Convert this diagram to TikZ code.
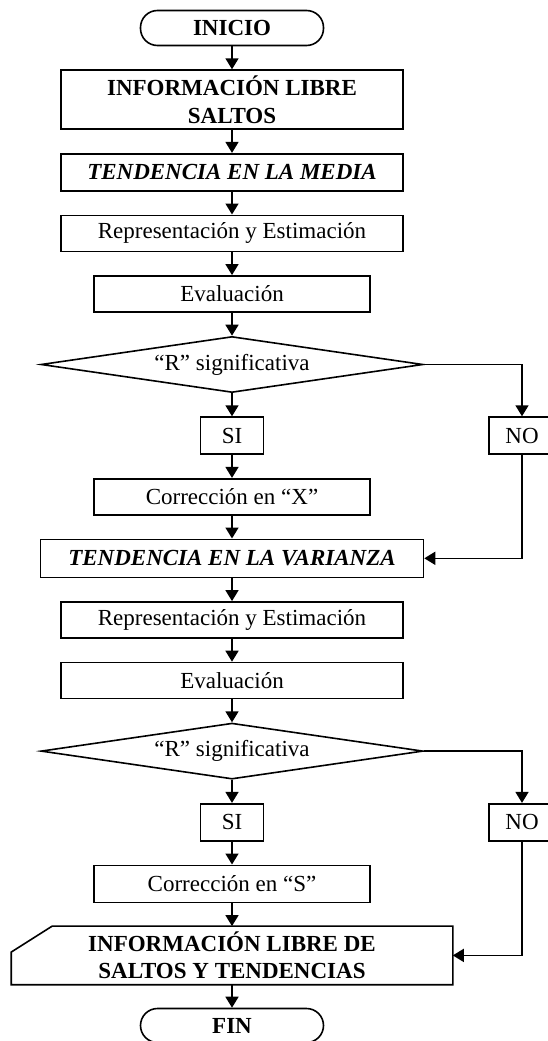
\documentclass[tikz,border=0pt]{standalone}
\usepackage{fontspec}
\setmainfont{Liberation Serif}
\usetikzlibrary{arrows.meta,positioning,shapes.geometric}
\tikzset{
  every picture/.style={line width=1.6pt},
  every node/.append style={font=\fontsize{23}{28}\selectfont},
  caja/.style={draw, align=center, inner sep=3pt, minimum width=#1, minimum height=36pt},
  caja/.default=342pt,
  negrita/.style={caja=#1, font=\fontsize{23}{28}\selectfont\bfseries},
  negrita/.default=342pt,
  titulo/.style={caja=#1, font=\fontsize{23}{28}\selectfont\bfseries\itshape},
  titulo/.default=342pt,
  terminal/.style={draw, rounded corners=17pt, minimum width=183pt, minimum height=35pt, font=\fontsize{23}{28}\selectfont\bfseries},
  decision/.style={draw, diamond, aspect=6.8, inner sep=0pt, minimum width=382pt, minimum height=56pt},
  rama/.style={caja=#1, minimum height=37pt},
  rama/.default=63pt,
  flecha/.style={-{Triangle[length=11pt,width=13pt]}},
}
\begin{document}
\begin{tikzpicture}[x=1pt, y=1pt, node distance=23pt]
  \useasboundingbox (0,0) rectangle (548,-1041);
  \coordinate (der) at (522,0);

  \node[terminal] (ini) at (232,-28) {INICIO};
  \node[negrita, minimum height=59pt, below=of ini] (info) {INFORMACIÓN LIBRE\\SALTOS};
  \node[titulo, minimum height=37pt, below=of info] (media) {TENDENCIA EN LA MEDIA};
  \node[caja, below=of media] (rep1) {Representación y Estimación};
  \node[caja=276pt, below=of rep1] (eval1) {Evaluación};
  \node[decision, below=of eval1] (dec1) {“R” significativa};
  \node[rama, below=of dec1] (si1) {SI};
  \node[rama=66pt] (no1) at (si1 -| der) {NO};
  \node[caja=276pt, below=of si1] (corx) {Corrección en “X”};
  \node[titulo=383pt, minimum height=38pt, below=of corx] (var) {TENDENCIA EN LA VARIANZA};
  \node[caja, below=of var] (rep2) {Representación y Estimación};
  \node[caja, below=of rep2] (eval2) {Evaluación};
  \node[decision, below=of eval2] (dec2) {“R” significativa};
  \node[rama, below=of dec2] (si2) {SI};
  \node[rama=66pt] (no2) at (si2 -| der) {NO};
  \node[caja=276pt, minimum height=37pt, below=of si2] (cors) {Corrección en “S”};
  \node[align=center, inner sep=0pt, minimum width=440pt, minimum height=57pt, font=\fontsize{23}{27}\selectfont\bfseries, below=of cors] (salida) {INFORMACIÓN LIBRE DE\\SALTOS Y TENDENCIAS};
  \draw (salida.south west) -- (salida.south east) -- (salida.north east)
    -- ([xshift=41pt]salida.north west) -- ([yshift=-26pt]salida.north west) -- cycle;
  \node[terminal, minimum height=34pt, below=of salida] (fin) {FIN};

  \foreach \a/\b in {ini/info, info/media, media/rep1, rep1/eval1, eval1/dec1, dec1/si1, si1/corx, corx/var,
    var/rep2, rep2/eval2, eval2/dec2, dec2/si2, si2/cors, cors/salida, salida/fin} \draw[flecha] (\a) -- (\b);
  \draw[flecha] (dec1.east) -| (no1);
  \draw[flecha] (no1) |- (var);
  \draw[flecha] (dec2.east) -| (no2);
  \draw[flecha] (no2) |- (salida);
\end{tikzpicture}
\end{document}
